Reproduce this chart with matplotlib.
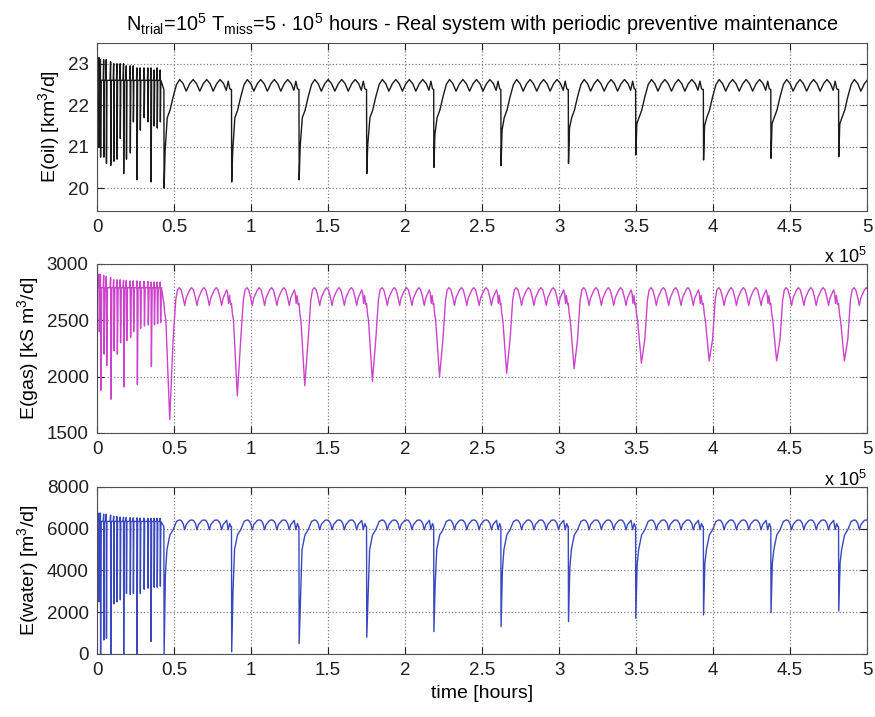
import matplotlib
matplotlib.use('Agg')
import matplotlib.pyplot as plt
import numpy as np

plt.rcParams['font.family'] = ['Liberation Sans', 'DejaVu Sans']
plt.rcParams['mathtext.fontset'] = 'custom'
plt.rcParams['mathtext.rm'] = 'Liberation Sans'
plt.rcParams['mathtext.it'] = 'Liberation Sans:italic'
plt.rcParams['mathtext.bf'] = 'Liberation Sans:bold'

# time is in units of 1e5 hours
maint_t = [0.434, 0.873, 1.311, 1.750, 2.186, 2.622, 3.060, 3.497, 3.937, 4.375, 4.815]

# failures before the first maintenance (dense part at the start)
early_t = [0.012, 0.022, 0.043, 0.060, 0.088, 0.108, 0.129, 0.150, 0.172, 0.190,
           0.215, 0.235, 0.259, 0.280, 0.305, 0.330, 0.350, 0.370, 0.390, 0.410]

oil_early_top = [23.15, 23.1, 23.1, 23.1, 23.05, 23.0, 23.0, 23.0, 23.0, 22.95,
                 22.95, 22.95, 22.9, 22.9, 22.9, 22.9, 22.9, 22.85, 22.9, 22.85]
oil_early_min = [21.0, 20.75, 20.75, 20.6, 20.55, 20.65, 20.7, 21.2, 20.35, 20.7,
                 20.85, 21.6, 20.2, 21.4, 21.7, 21.6, 20.15, 21.5, 21.45, 21.6]
gas_early_top = [2910, 2910, 2900, 2890, 2880, 2860, 2860, 2860, 2855, 2855,
                 2850, 2850, 2850, 2845, 2845, 2845, 2840, 2840, 2840, 2840]
gas_early_min = [2400, 1880, 2200, 2100, 1800, 2230, 2200, 2300, 1910, 2320,
                 2350, 2400, 1930, 2430, 2450, 2460, 2090, 2460, 2470, 2480]
water_early_top = [6750, 6750, 6700, 6700, 6650, 6600, 6580, 6560, 6550, 6540,
                   6530, 6520, 6520, 6510, 6510, 6500, 6500, 6500, 6500, 6500]
water_early_min = [2500, 0, 670, 750, 0, 2400, 2500, 2600, 0, 2900,
                   2850, 2900, 0, 2900, 3100, 3150, 600, 3200, 3200, 3250]

# depth of the drop and the knee after it, one per maintenance
oil_min = [20.0, 20.15, 20.2, 20.35, 20.5, 20.54, 20.6, 20.8, 20.68, 20.72, 20.76]
oil_sh = [20.9, 20.9, 21.0, 21.05, 21.3, 21.4, 21.45, 21.55, 21.5, 21.55, 21.55]
gas_min = [1620, 1830, 1920, 1960, 2000, 2030, 2070, 2120, 2140, 2140, 2140]
water_min = [0, 100, 500, 800, 1070, 1310, 1550, 1710, 1870, 1980, 2060]
water_sh = [3800, 3000, 2500, 2800, 3400, 3950, 4100, 4250, 4350, 4350, 4350]

# shape of one cycle after a maintenance (offset, value)
oil_post_dt = [0.022, 0.040, 0.060, 0.082, 0.103, 0.125, 0.145, 0.168, 0.190, 0.212, 0.233,
               0.256, 0.278, 0.300, 0.320, 0.343, 0.365, 0.388, 0.405, 0.418, 0.428, 0.436]
oil_post_v = [21.7, 21.88, 22.2, 22.5, 22.62, 22.52, 22.34, 22.52, 22.62, 22.52, 22.34,
              22.52, 22.62, 22.52, 22.34, 22.52, 22.62, 22.52, 22.36, 22.58, 22.4, 22.38]

gas_post_dt = [0.060, 0.077, 0.088,
               0.100, 0.112, 0.125, 0.135, 0.145, 0.168,
               0.180, 0.192, 0.205, 0.215, 0.225, 0.248,
               0.260, 0.272, 0.285, 0.295, 0.305, 0.328,
               0.340, 0.352, 0.365, 0.375, 0.385, 0.408,
               0.414, 0.420, 0.426, 0.433]
gas_post_v = [2330, 2680, 2770,
              2790, 2770, 2700, 2632, 2700, 2770,
              2790, 2770, 2700, 2632, 2700, 2770,
              2790, 2770, 2700, 2632, 2700, 2770,
              2790, 2770, 2700, 2632, 2700, 2770,
              2740, 2650, 2720, 2640]

water_post_dt = [0.020, 0.039, 0.060, 0.082,
                 0.100, 0.112, 0.125, 0.135, 0.145, 0.168,
                 0.180, 0.192, 0.205, 0.215, 0.225, 0.248,
                 0.260, 0.272, 0.285, 0.295, 0.305, 0.328,
                 0.340, 0.352, 0.365, 0.375, 0.385, 0.408,
                 0.418, 0.428, 0.436]
water_post_v = [5000, 5700, 5950, 6350,
                6420, 6400, 6250, 5950, 6200, 6400,
                6420, 6400, 6250, 5950, 6200, 6400,
                6420, 6400, 6250, 5950, 6200, 6400,
                6420, 6400, 6250, 5950, 6200, 6400,
                5950, 6250, 6100]


def build(early_top, early_min, base, w, pre_dt, pre_v, dip_dt, mins, sh_dt, shs, post_dt, post_v):
    t, v = [0.0], [early_top[0]]
    for et, top, low in zip(early_t, early_top, early_min):
        t += [et - 0.003, et, et + w, et + 2 * w + 0.002]
        v += [base, top, low, base]
    for k, t0 in enumerate(maint_t):
        t += [t0 + d for d in pre_dt]
        v += list(pre_v)
        t.append(t0 + dip_dt)
        v.append(mins[k])
        if shs is not None:
            t.append(t0 + sh_dt)
            v.append(shs[k])
        t += [t0 + d for d in post_dt]
        v += list(post_v)
    return np.array(t), np.array(v)


t_oil, y_oil = build(oil_early_top, oil_early_min, 22.6, 0.0012,
                     [0.0], [22.38], 0.0015, oil_min, 0.008, oil_sh, oil_post_dt, oil_post_v)
t_gas, y_gas = build(gas_early_top, gas_early_min, 2790, 0.003,
                     [0.0, 0.006, 0.013], [2650, 2560, 2500], 0.038, gas_min, None, None,
                     gas_post_dt, gas_post_v)
t_wat, y_wat = build(water_early_top, water_early_min, 6350, 0.0012,
                     [0.0], [6100], 0.0015, water_min, 0.010, water_sh, water_post_dt, water_post_v)

fig = plt.figure(figsize=(8.75, 7.17), dpi=100)
ax1 = fig.add_axes([0.1109, 0.7057, 0.8800, 0.2343])
ax2 = fig.add_axes([0.1109, 0.3961, 0.8800, 0.2357])
ax3 = fig.add_axes([0.1109, 0.0879, 0.8800, 0.2329])

ax1.plot(t_oil, y_oil, color='#1a1a1a', lw=1.0)
ax2.plot(t_gas, y_gas, color='#cc44cc', lw=1.0)
ax3.plot(t_wat, y_wat, color='#3a48c0', lw=1.0)

xt = np.arange(0, 5.01, 0.5)
for ax, ylim, yt in [(ax1, (19.45, 23.5), [20, 21, 22, 23]),
                     (ax2, (1500, 3000), [1500, 2000, 2500, 3000]),
                     (ax3, (0, 8000), [0, 2000, 4000, 6000, 8000])]:
    ax.set_xlim(0, 5)
    ax.set_ylim(*ylim)
    ax.set_xticks(xt)
    ax.set_xticklabels([f'{x:g}' for x in xt])
    ax.set_yticks(yt)
    ax.grid(True, linestyle=':', color='#808080', linewidth=0.9)
    ax.tick_params(direction='in', top=True, right=True, length=5, labelsize=13.5,
                   colors='#202020', pad=6)
    for s in ax.spines.values():
        s.set_color('#505050')

ax1.set_ylabel('E(oil) [km$^3$/d]', fontsize=14)
ax2.set_ylabel('E(gas) [kS m$^3$/d]', fontsize=14)
ax3.set_ylabel('E(water) [m$^3$/d]', fontsize=14)
ax3.set_xlabel('time [hours]', fontsize=14)

ax1.set_title(r'N$_{\mathrm{trial}}$=10$^5$ T$_{\mathrm{miss}}$=5 $\cdot$ 10$^5$ hours'
              ' - Real system with periodic preventive maintenance', fontsize=14.3, pad=9)

fig.text(0.99, 1 - 257 / 717, r'x 10$^5$', ha='right', va='center', fontsize=13)
fig.text(0.99, 1 - 480 / 717, r'x 10$^5$', ha='right', va='center', fontsize=13)

fig.savefig('out.png', dpi=100)
